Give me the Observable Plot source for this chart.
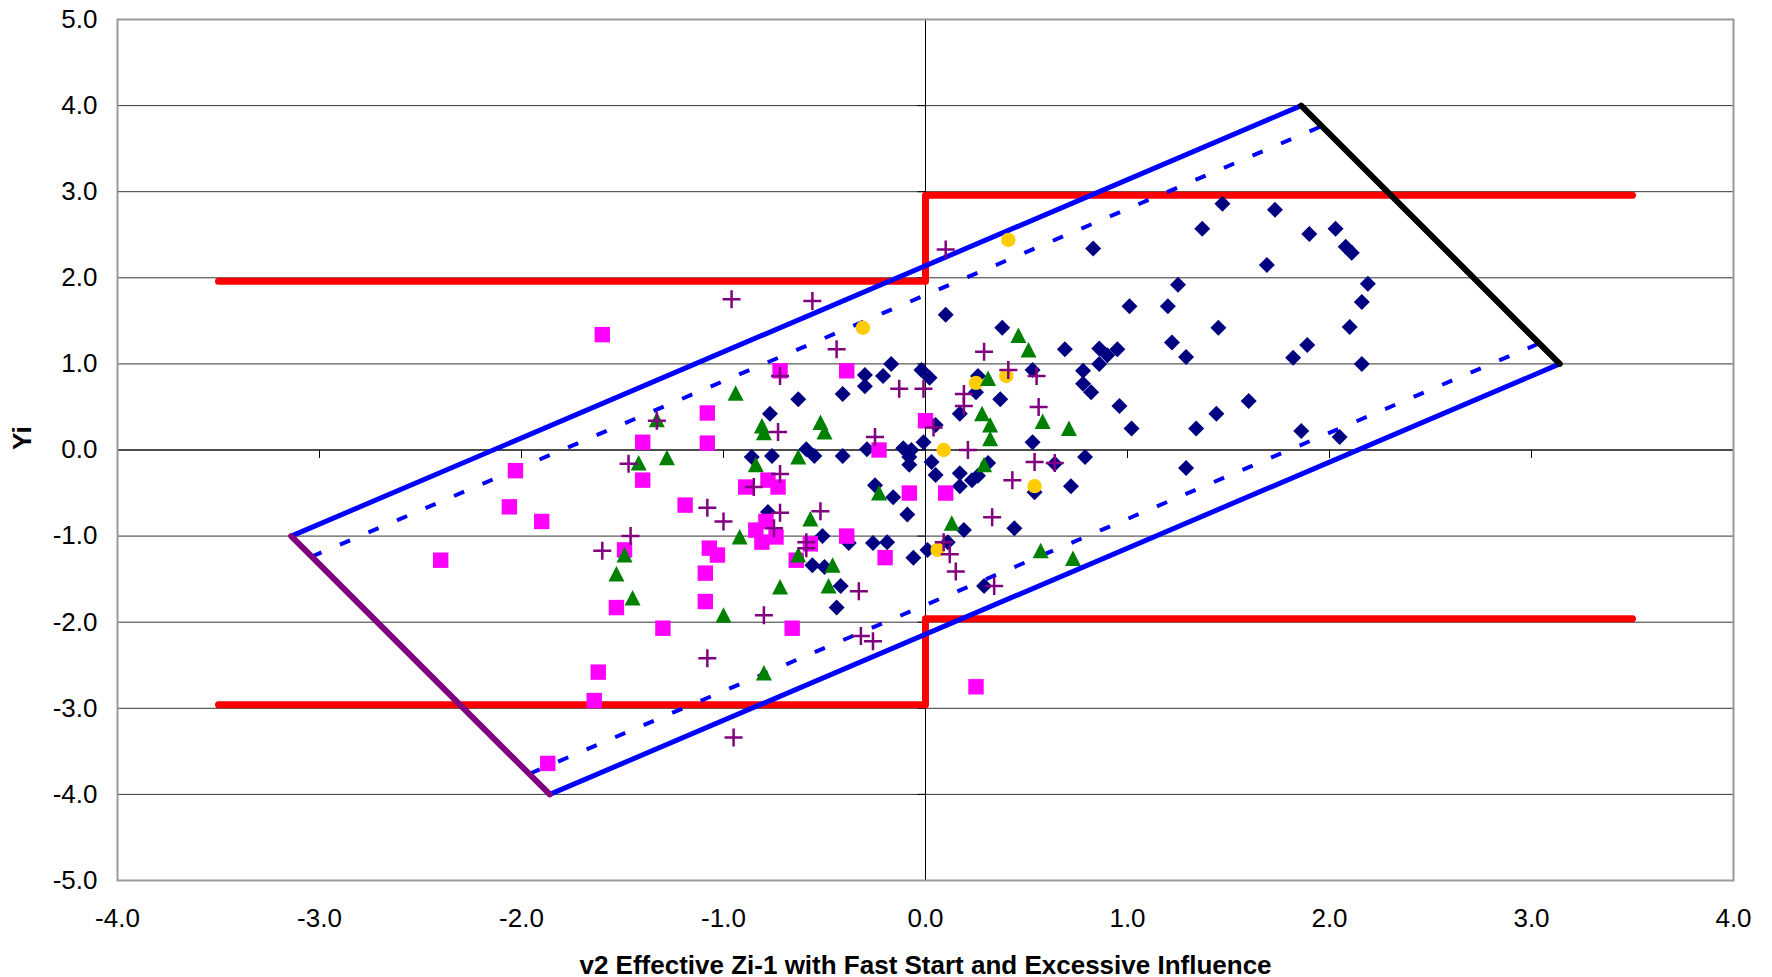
<!DOCTYPE html>
<html><head><meta charset="utf-8">
<script src="https://cdn.jsdelivr.net/npm/d3@7"></script>
<script src="https://cdn.jsdelivr.net/npm/@observablehq/plot@0.6"></script>
<style>html,body{margin:0;padding:0;background:#fff;} #chart{width:1772px;height:977px;}</style>
</head><body><div id="chart"></div>
<script>
// ---- axis ticks & titles ----
const xTicks = [-4, -3, -2, -1, 0, 1, 2, 3, 4];
const yTicks = [-5, -4, -3, -2, -1, 0, 1, 2, 3, 4, 5];
const gridY = [-4, -3, -2, -1, 0, 1, 2, 3, 4];
const axisCrossX = 0;
const axisCrossY = 0;
const xTitle = "v2 Effective Zi-1 with Fast Start and Excessive Influence";
const yTitle = "Yi";

// ---- limit lines ----
const redUpperX = [-3.5, 0, 0, 3.5];
const redUpperY = [1.96, 1.96, 2.96, 2.96];
const redLowerX = [-3.5, 0, 0, 3.5];
const redLowerY = [-2.96, -2.96, -1.96, -1.96];
const blueUpperX = [-3.14, 1.86];
const blueUpperY = [-1.0, 4.0];
const blueLowerX = [-1.86, 3.14];
const blueLowerY = [-4.0, 1.0];
const dashUpperX = [-3.04, 1.96];
const dashUpperY = [-1.24, 3.76];
const dashLowerX = [-1.96, 3.04];
const dashLowerY = [-3.76, 1.24];
const blackX = [1.86, 3.14];
const blackY = [4.0, 1.0];
const purpleX = [-3.14, -1.86];
const purpleY = [-1.0, -4.0];

// ---- scatter series ----
const diamondX = [0.83,1.37,1.47,1.73,1.69,1.90,2.03,2.08,2.11,2.19,1.25,1.20,2.16,1.01,1.45,2.10,1.22,1.29,1.89,1.82,2.16,1.60,1.44,1.34,1.86,2.05,1.29,
  0.10,0.38,0.69,0.86,0.90,0.95,0.86,-0.02,0.02,0.26,0.53,0.78,0.78,0.82,0.25,0.37,0.17,0.96,1.02,0.05,-0.01,0.53,-0.11,-0.07,0.79,0.03,0.31,0.64,0.05,0.17,0.23,0.26,0.17,0.72,0.54,-0.08,-0.08,
  -0.17,-0.21,-0.30,-0.30,-0.41,-0.63,-0.77,-0.86,-0.76,-0.59,-0.55,-0.41,-0.29,-0.25,-0.16,-0.09,-0.78,-0.51,-0.56,-0.50,-0.38,-0.26,-0.19,-0.42,-0.44,-0.06,0.01,0.19,0.44,0.11,0.29];
const diamondY = [2.34,2.57,2.86,2.79,2.15,2.51,2.57,2.36,2.29,1.93,1.92,1.67,1.72,1.67,1.42,1.43,1.25,1.08,1.22,1.07,1.00,0.57,0.42,0.25,0.22,0.15,-0.21,
  1.57,1.42,1.17,1.18,1.10,1.17,1.00,0.93,0.84,0.86,0.93,0.92,0.77,0.67,0.67,0.59,0.42,0.51,0.25,0.29,0.09,0.09,0.02,0.00,-0.08,-0.14,-0.15,-0.16,-0.29,-0.27,-0.35,-0.30,-0.42,-0.42,-0.49,-0.17,-0.08,
  1.00,0.86,0.87,0.74,0.65,0.59,0.42,-0.08,-0.07,0.01,-0.07,-0.07,0.01,-0.41,-0.55,-0.75,-0.72,-1.00,-1.34,-1.36,-1.08,-1.08,-1.07,-1.58,-1.83,-1.25,-1.16,-0.93,-0.91,-1.07,-1.58];

const squareX = [-1.60,-1.40,-2.03,-1.40,-2.06,-1.90,-2.40,-1.49,-1.53,-1.30,-1.62,-1.64,-1.87,-0.72,-0.39,-1.08,-1.08,-0.23,-0.89,-0.78,-0.73,-1.19,-0.08,-0.84,-0.79,-0.74,-0.81,-1.07,-1.03,-1.09,-1.09,-0.57,-0.39,-0.64,-0.20,0.00,0.10,-0.66,0.25];
const squareY = [1.34,0.09,-0.24,-0.35,-0.66,-0.83,-1.28,-1.16,-1.83,-2.07,-2.58,-2.91,-3.64,0.92,0.92,0.43,0.08,0.00,-0.43,-0.35,-0.43,-0.64,-0.50,-0.93,-0.83,-1.01,-1.07,-1.14,-1.22,-1.43,-1.76,-1.09,-1.00,-1.28,-1.25,0.34,-0.50,-2.07,-2.75];

const circleX = [-0.31,0.41,0.25,0.40,0.09,0.54,0.06];
const circleY = [1.42,2.44,0.78,0.86,0.00,-0.42,-1.16];

const triangleX = [-1.33,-1.42,-1.28,-1.49,-1.53,-1.45,-0.94,-0.81,-0.80,-0.52,-0.50,-0.63,-0.84,-0.23,-0.57,-0.92,-0.63,-0.46,-0.72,-0.48,-1.00,-0.80,0.46,0.51,0.31,0.28,0.32,0.32,0.58,0.71,0.29,0.13,0.57,0.73];
const triangleY = [0.35,-0.15,-0.09,-1.22,-1.44,-1.72,0.66,0.28,0.20,0.32,0.21,-0.08,-0.17,-0.50,-0.80,-1.01,-1.22,-1.34,-1.59,-1.58,-1.92,-2.59,1.33,1.16,0.83,0.42,0.29,0.13,0.33,0.25,-0.17,-0.85,-1.17,-1.26];

const plusX = [-1.33,-1.47,-1.60,-1.46,-0.96,-0.56,-0.44,-0.72,-0.13,-0.73,-0.25,-0.72,-0.85,-1.08,-1.00,-0.72,-0.75,-0.52,-0.59,-0.59,-0.33,-0.80,-1.08,-0.32,-0.26,-0.95,0.10,0.29,0.41,0.55,-0.01,0.19,0.19,0.56,0.04,0.21,0.54,0.64,0.43,0.33,0.09,0.12,0.15,0.34];
const plusY = [0.34,-0.16,-1.17,-1.00,1.75,1.73,1.17,0.86,0.71,0.21,0.15,-0.28,-0.43,-0.67,-0.83,-0.73,-0.91,-0.71,-1.07,-1.14,-1.64,-1.92,-2.42,-2.16,-2.22,-3.34,2.33,1.14,0.93,0.86,0.71,0.65,0.51,0.50,0.26,0.00,-0.14,-0.15,-0.35,-0.78,-1.07,-1.21,-1.41,-1.58];

// ---- build tables ----
const rows = (xs, ys) => xs.map((x, i) => ({x, y: ys[i]}));
const font = "'Liberation Sans', Arial, Helvetica, sans-serif";
const fmt = d => d.toFixed(1);
const tickDown = {draw(c){ c.moveTo(0, 0); c.lineTo(0, 8); }};
const tickLeft = {draw(c){ c.moveTo(0, 0); c.lineTo(-8, 0); }};
const plusSym = {draw(c){ c.moveTo(-9, 0); c.lineTo(9, 0); c.moveTo(0, -9); c.lineTo(0, 9); }};
const triSym = {draw(c){ c.moveTo(0, -8); c.lineTo(8, 7.5); c.lineTo(-8, 7.5); c.closePath(); }};
const diaSym = {draw(c){ c.moveTo(0, -8); c.lineTo(8, 0); c.lineTo(0, 8); c.lineTo(-8, 0); c.closePath(); }};
const sqSym = {draw(c){ c.rect(-7.7, -7.7, 15.4, 15.4); }};
const line = (xs, ys, o) => Plot.line(rows(xs, ys), {x: "x", y: "y", ...o});

const chart = Plot.plot({
  width: 1772, height: 977,
  marginLeft: 117, marginRight: 39, marginTop: 19, marginBottom: 97,
  x: {domain: [-4, 4]},
  y: {domain: [-5, 5]},
  style: {fontFamily: font, fontSize: "26px", color: "#000", background: "#fff", overflow: "visible"},
  marks: [
    Plot.ruleY(gridY, {stroke: "#333", strokeWidth: 1}),
    Plot.ruleX([axisCrossX], {stroke: "#000", strokeWidth: 1}),
    Plot.ruleY([axisCrossY], {stroke: "#000", strokeWidth: 1}),
    Plot.dot(xTicks.map(v => ({x: v, y: axisCrossY})), {x: "x", y: "y", symbol: tickDown, fill: "none", stroke: "#000", strokeWidth: 1}),
    Plot.dot(yTicks.map(v => ({x: axisCrossX, y: v})), {x: "x", y: "y", symbol: tickLeft, fill: "none", stroke: "#000", strokeWidth: 1}),
    line(redUpperX, redUpperY, {stroke: "#ff0000", strokeWidth: 7}),
    line(redLowerX, redLowerY, {stroke: "#ff0000", strokeWidth: 7}),
    line(blueUpperX, blueUpperY, {stroke: "#0000ff", strokeWidth: 5}),
    line(blueLowerX, blueLowerY, {stroke: "#0000ff", strokeWidth: 5}),
    line(dashUpperX, dashUpperY, {stroke: "#0000ff", strokeWidth: 4, strokeDasharray: "11,20", strokeLinecap: "butt"}),
    line(dashLowerX, dashLowerY, {stroke: "#0000ff", strokeWidth: 4, strokeDasharray: "11,20", strokeLinecap: "butt"}),
    line(blackX, blackY, {stroke: "#000000", strokeWidth: 6}),
    line(purpleX, purpleY, {stroke: "#800080", strokeWidth: 6}),
    Plot.dot(rows(diamondX, diamondY), {x: "x", y: "y", symbol: diaSym, fill: "#000080", stroke: "none"}),
    Plot.dot(rows(squareX, squareY), {x: "x", y: "y", symbol: sqSym, fill: "#ff00ff", stroke: "none"}),
    Plot.dot(rows(circleX, circleY), {x: "x", y: "y", r: 7.2, fill: "#ffcc00", stroke: "none"}),
    Plot.dot(rows(triangleX, triangleY), {x: "x", y: "y", symbol: triSym, fill: "#008000", stroke: "none"}),
    Plot.dot(rows(plusX, plusY), {x: "x", y: "y", symbol: plusSym, fill: "none", stroke: "#800080", strokeWidth: 2.5}),
    Plot.frame({stroke: "#999", strokeWidth: 2}),
    Plot.axisX(xTicks, {anchor: "bottom", tickSize: 0, tickPadding: 28, tickFormat: fmt, label: null}),
    Plot.axisY(yTicks, {anchor: "left", tickSize: 0, tickPadding: 20, tickFormat: fmt, label: null}),
    Plot.text([xTitle], {frameAnchor: "bottom", dy: 93, text: d => d, fontWeight: "bold", fontSize: 26}),
    Plot.text([yTitle], {frameAnchor: "left", dx: -95, rotate: -90, text: d => d, fontWeight: "bold", fontSize: 26})
  ]
});
document.getElementById("chart").appendChild(chart);
</script></body></html>
